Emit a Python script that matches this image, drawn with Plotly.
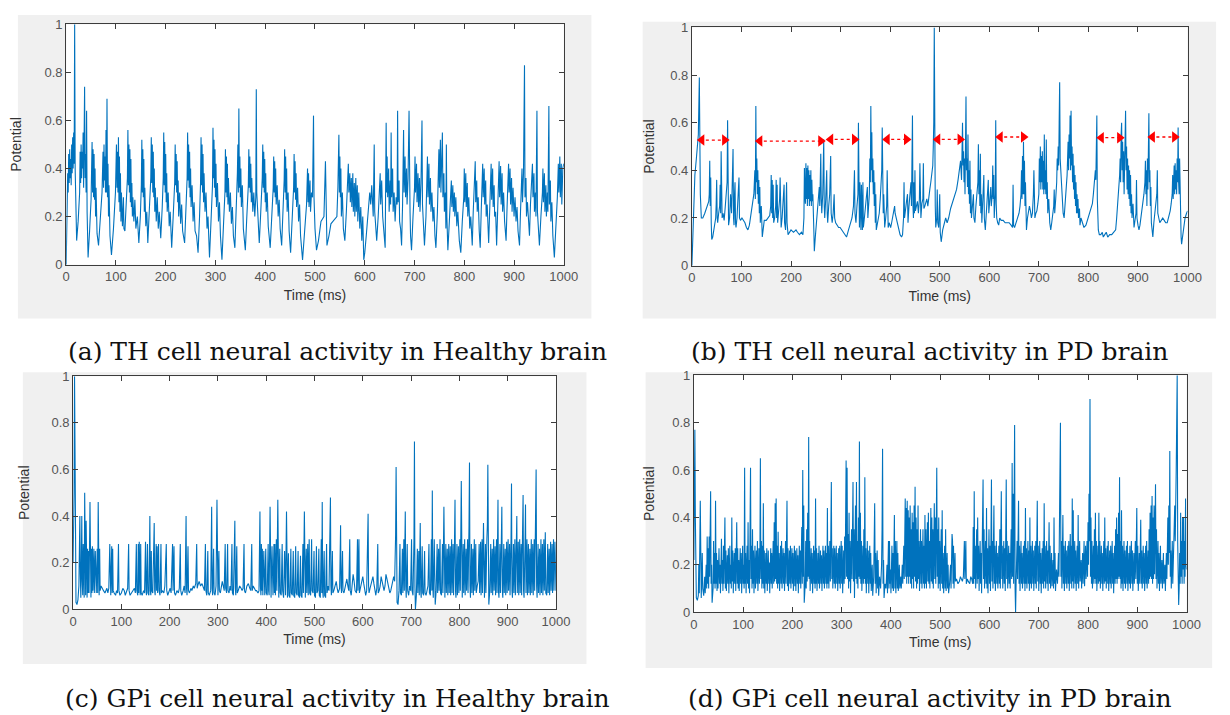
import plotly.graph_objects as go

# ---------------- data ----------------
TIME_TICKS = [0, 100, 200, 300, 400, 500, 600, 700, 800, 900, 1000]
POT_TICKS = [0, 0.2, 0.4, 0.6, 0.8, 1]
POT_LABELS = ["0", "0.2", "0.4", "0.6", "0.8", "1"]

CAPTIONS = [
    "(a) TH cell neural activity in Healthy brain",
    "(b) TH cell neural activity in PD brain",
    "(c) GPi cell neural activity in Healthy brain",
    "(d) GPi cell neural activity in PD brain",
]

# (time ms, potential)
TH_HEALTHY = [
(0,0.00),(2,0.22),(3,0.38),(4,0.30),(5,0.46),(6,0.34),(7,0.48),(8,0.36),(9,0.44),(10,0.33),(11,0.50),(12,0.38),(13,0.53),(14,0.40),(15,0.55),(16,0.42),(17,1.00),(18,0.40),(19,0.22),(21,0.10),
(24,0.18),(27,0.30),(28,0.47),(29,0.34),(30,0.50),(31,0.36),(32,0.47),(33,0.40),(34,0.55),(35,0.32),(37,0.74),(38,0.36),(39,0.46),(40,0.30),(41,0.64),(42,0.22),(44,0.03),
(47,0.14),(50,0.27),(52,0.51),(53,0.30),(54,0.48),(55,0.28),(56,0.46),(57,0.27),(58,0.40),(59,0.20),(60,0.32),(62,0.13),(65,0.08),
(68,0.16),(72,0.30),(74,0.47),(75,0.32),(76,0.50),(77,0.35),(78,0.45),(79,0.30),(80,0.56),(81,0.30),(82,0.69),(83,0.28),(84,0.42),(85,0.20),(86,0.33),(88,0.12),(91,0.04),
(95,0.15),(99,0.30),(101,0.50),(102,0.32),(103,0.47),(104,0.30),(105,0.53),(106,0.26),(107,0.45),(108,0.22),(109,0.38),(110,0.18),(111,0.30),(113,0.16),(115,0.28),(116,0.15),(118,0.14),
(121,0.25),(123,0.36),(124,0.56),(125,0.33),(126,0.50),(127,0.30),(128,0.48),(129,0.26),(130,0.44),(131,0.24),(132,0.34),(133,0.20),(134,0.28),(136,0.18),(138,0.27),(140,0.15),(143,0.20),(146,0.09),
(149,0.20),(151,0.33),(152,0.52),(153,0.30),(154,0.48),(155,0.28),(156,0.44),(157,0.22),(158,0.32),(160,0.16),(162,0.22),(164,0.09),
(167,0.22),(170,0.36),(171,0.53),(172,0.34),(173,0.50),(174,0.30),(175,0.47),(176,0.28),(177,0.40),(178,0.22),(179,0.32),(181,0.18),(183,0.28),(185,0.15),(187,0.22),(190,0.11),
(193,0.24),(195,0.36),(196,0.55),(197,0.33),(198,0.51),(199,0.30),(200,0.46),(201,0.26),(202,0.38),(203,0.22),(205,0.30),(207,0.16),(209,0.22),(212,0.07),
(215,0.20),(218,0.34),(219,0.50),(220,0.33),(221,0.46),(222,0.30),(223,0.43),(224,0.26),(225,0.35),(226,0.20),(228,0.30),(230,0.17),(232,0.25),(234,0.14),(238,0.09),
(241,0.22),(243,0.36),(244,0.55),(245,0.35),(246,0.50),(247,0.32),(248,0.47),(249,0.28),(250,0.40),(251,0.24),(253,0.33),(255,0.18),(257,0.26),(259,0.14),(262,0.12),(265,0.05),
(268,0.20),(270,0.34),(271,0.53),(272,0.33),(273,0.50),(274,0.30),(275,0.46),(276,0.26),(277,0.38),(279,0.22),(281,0.30),(283,0.15),(285,0.20),(288,0.03),
(291,0.18),(294,0.33),(295,0.57),(296,0.36),(297,0.52),(298,0.32),(299,0.48),(300,0.28),(301,0.42),(302,0.24),(304,0.34),(306,0.18),(308,0.26),(310,0.12),(313,0.02),
(316,0.18),(319,0.30),(320,0.48),(321,0.30),(322,0.45),(323,0.28),(324,0.42),(325,0.25),(326,0.36),(328,0.22),(330,0.30),(332,0.17),(334,0.24),(336,0.12),(339,0.07),
(342,0.22),(344,0.38),(345,0.50),(346,0.30),(347,0.65),(348,0.32),(349,0.45),(350,0.28),(351,0.40),(352,0.24),(354,0.33),(356,0.15),(360,0.06),
(363,0.20),(366,0.33),(367,0.48),(368,0.32),(369,0.45),(370,0.30),(371,0.42),(372,0.26),(373,0.36),(375,0.22),(377,0.30),(379,0.20),(381,0.28),(382,0.73),(383,0.30),(385,0.18),(388,0.09),
(391,0.22),(394,0.36),(395,0.50),(396,0.32),(397,0.47),(398,0.30),(399,0.44),(400,0.26),(401,0.38),(402,0.22),(404,0.30),(406,0.16),(410,0.07),
(413,0.20),(416,0.32),(417,0.45),(418,0.30),(419,0.43),(420,0.28),(421,0.40),(422,0.25),(424,0.33),(426,0.20),(428,0.27),(430,0.15),(433,0.08),
(436,0.22),(438,0.35),(439,0.48),(440,0.30),(441,0.45),(442,0.27),(443,0.40),(444,0.22),(446,0.30),(448,0.14),(451,0.05),
(454,0.18),(457,0.32),(458,0.46),(459,0.30),(460,0.43),(461,0.27),(462,0.38),(463,0.24),(465,0.32),(467,0.18),(469,0.25),(471,0.12),(475,0.02),
(479,0.14),(483,0.25),(485,0.40),(486,0.26),(487,0.38),(488,0.24),(490,0.35),(491,0.22),(493,0.30),(495,0.28),(497,0.62),(498,0.28),(500,0.15),(503,0.06),
(507,0.10),(512,0.18),(515,0.19),(518,0.20),(521,0.43),(522,0.20),(524,0.08),(528,0.12),(532,0.17),(536,0.18),(540,0.19),(544,0.20),(546,0.32),(548,0.54),(549,0.30),(550,0.45),(551,0.28),(552,0.40),(553,0.20),(555,0.30),(557,0.15),(560,0.10),
(563,0.22),(566,0.35),(567,0.42),(568,0.30),(570,0.38),(571,0.26),(573,0.36),(574,0.24),(576,0.38),(577,0.22),(579,0.34),(580,0.20),(582,0.36),(583,0.22),(585,0.33),(586,0.18),(588,0.30),(590,0.15),(592,0.24),(594,0.10),(596,0.20),(598,0.02),(600,0.05),
(603,0.12),(607,0.22),(610,0.30),(612,0.25),(614,0.33),(617,0.20),(619,0.50),(620,0.22),(622,0.15),(624,0.10),
(627,0.20),(630,0.30),(631,0.38),(632,0.25),(634,0.35),(636,0.20),(638,0.15),(641,0.07),
(643,0.59),(644,0.30),(645,0.45),(646,0.28),(648,0.40),(649,0.22),(651,0.35),(652,0.25),(653,0.55),(654,0.28),(656,0.40),(657,0.22),(659,0.30),(661,0.18),(663,0.28),(665,0.25),(666,0.64),(667,0.26),(669,0.35),(670,0.18),(672,0.15),(674,0.08),
(676,0.25),(678,0.56),(679,0.30),(681,0.45),(682,0.28),(684,0.40),(685,0.25),(687,0.36),(689,0.64),(690,0.28),(691,0.22),(692,0.12),(694,0.06),
(697,0.20),(700,0.32),(701,0.45),(702,0.30),(704,0.42),(705,0.26),(707,0.38),(708,0.24),(710,0.36),(711,0.22),(713,0.34),(715,0.60),(716,0.25),(718,0.15),(720,0.08),
(723,0.20),(725,0.32),(726,0.45),(727,0.28),(729,0.42),(730,0.25),(732,0.36),(733,0.22),(735,0.30),(737,0.18),(739,0.24),(741,0.12),(743,0.07),
(746,0.22),(748,0.36),(749,0.48),(750,0.32),(752,0.52),(753,0.30),(754,0.45),(756,0.55),(757,0.28),(759,0.38),(760,0.22),(762,0.30),(763,0.15),(764,0.50),(765,0.20),(767,0.06),
(770,0.18),(773,0.28),(774,0.35),(775,0.24),(777,0.33),(778,0.22),(780,0.30),(781,0.20),(783,0.28),(785,0.16),(787,0.22),(790,0.10),(793,0.05),
(796,0.18),(799,0.28),(800,0.40),(801,0.26),(803,0.38),(804,0.24),(806,0.34),(807,0.20),(809,0.28),(811,0.15),(813,0.20),(816,0.08),
(818,0.22),(820,0.30),(822,0.43),(823,0.26),(825,0.35),(826,0.22),(828,0.28),(830,0.14),(832,0.07),
(834,0.22),(836,0.33),(837,0.42),(838,0.28),(840,0.40),(841,0.25),(843,0.35),(844,0.20),(846,0.25),(849,0.09),
(851,0.22),(853,0.33),(854,0.42),(855,0.27),(857,0.40),(858,0.24),(860,0.33),(861,0.20),(863,0.22),(865,0.08),
(867,0.22),(869,0.33),(870,0.43),(871,0.28),(873,0.41),(874,0.25),(876,0.38),(877,0.22),(879,0.30),(881,0.18),(884,0.10),
(886,0.24),(888,0.35),(889,0.42),(890,0.30),(892,0.40),(893,0.25),(895,0.36),(896,0.22),(898,0.32),(900,0.20),(902,0.28),(904,0.18),(906,0.24),(908,0.14),(911,0.08),
(913,0.22),(915,0.33),(916,0.40),(917,0.26),(919,0.38),(921,0.83),(922,0.28),(924,0.36),(925,0.20),(927,0.26),(929,0.16),(931,0.12),
(933,0.25),(935,0.33),(937,0.42),(938,0.28),(940,0.38),(941,0.22),(943,0.30),(944,0.20),(946,0.64),(947,0.22),(949,0.15),(951,0.08),
(954,0.20),(957,0.30),(958,0.40),(959,0.26),(961,0.38),(962,0.22),(964,0.33),(965,0.20),(967,0.30),(968,0.22),(970,0.66),(971,0.25),(973,0.35),(974,0.18),(976,0.26),(978,0.12),(981,0.03),
(984,0.15),(987,0.28),(989,0.42),(990,0.30),(992,0.45),(993,0.28),(995,0.42),(996,0.25),(998,0.40),(1000,0.42),
]

# (time ms, potential)
TH_PD = [
(0,0.00),(3,0.20),(6,0.38),(9,0.45),(11,0.50),(13,0.55),(15,0.79),(16,0.45),(17,0.30),(19,0.20),(22,0.20),(26,0.22),(30,0.25),(34,0.27),(35,0.30),(36,0.44),(37,0.25),(38,0.37),(39,0.18),(40,0.11),(42,0.12),(45,0.17),(48,0.20),(49,0.26),(50,0.36),(51,0.20),(52,0.18),(54,0.22),(56,0.25),(57,0.34),(58,0.22),(59,0.48),(60,0.25),(61,0.20),(63,0.22),(65,0.19),(67,0.24),(69,0.30),(71,0.35),(72,0.61),(73,0.22),(74,0.17),(76,0.20),(78,0.30),(80,0.22),(82,0.35),(83,0.49),(84,0.20),(85,0.17),(86,0.30),(87,0.35),(88,0.18),(89,0.16),(91,0.20),(93,0.28),(95,0.37),(96,0.20),(98,0.19),(101,0.20),(104,0.19),(107,0.18),(110,0.16),(113,0.15),(116,0.17),(119,0.22),(122,0.27),(125,0.30),(127,0.40),(128,0.28),(129,0.67),(130,0.35),(131,0.45),(132,0.30),(133,0.40),(134,0.26),(135,0.36),(136,0.22),(137,0.33),(138,0.18),(140,0.25),(142,0.12),(144,0.15),(146,0.19),(150,0.19),(154,0.20),(157,0.21),(159,0.25),(160,0.38),(161,0.22),(162,0.36),(163,0.20),(164,0.34),(165,0.18),(167,0.20),(169,0.25),(170,0.36),(171,0.20),(172,0.34),(173,0.18),(175,0.22),(177,0.28),(178,0.37),(179,0.20),(180,0.16),(182,0.20),(184,0.26),(186,0.34),(187,0.18),(189,0.15),(191,0.35),(192,0.18),(194,0.13),(197,0.14),(200,0.15),(205,0.14),(210,0.15),(213,0.14),(217,0.13),(221,0.14),(224,0.13),(226,0.20),(227,0.41),(228,0.30),(229,0.26),(230,0.43),(231,0.28),(232,0.41),(233,0.25),(234,0.42),(235,0.28),(236,0.40),(237,0.25),(238,0.38),(239,0.27),(240,0.40),(241,0.25),(242,0.36),(243,0.27),(244,0.30),(246,0.15),(247,0.06),(249,0.12),(252,0.20),(255,0.27),(257,0.33),(258,0.25),(260,0.47),(261,0.28),(262,0.22),(264,0.30),(266,0.53),(267,0.25),(268,0.20),(270,0.28),(272,0.40),(273,0.22),(274,0.18),(276,0.25),(278,0.30),(280,0.46),(281,0.22),(283,0.18),(285,0.22),(287,0.30),(288,0.20),(290,0.18),(293,0.17),(296,0.16),(299,0.16),(302,0.15),(306,0.14),(309,0.13),(312,0.12),(316,0.15),(320,0.18),(323,0.20),(326,0.25),(328,0.40),(329,0.22),(331,0.18),(333,0.25),(335,0.30),(336,0.60),(337,0.20),(338,0.16),(339,0.35),(340,0.20),(341,0.15),(342,0.34),(343,0.18),(344,0.15),(345,0.35),(346,0.16),(348,0.20),(350,0.25),(352,0.30),(354,0.33),(355,0.20),(357,0.25),(358,0.30),(359,0.45),(360,0.35),(361,0.67),(362,0.40),(363,0.56),(364,0.35),(365,0.45),(366,0.30),(367,0.40),(368,0.25),(369,0.35),(370,0.18),(371,0.30),(372,0.15),(374,0.18),(376,0.20),(378,0.22),(380,0.28),(382,0.35),(383,0.40),(384,0.58),(385,0.30),(386,0.22),(387,0.30),(388,0.18),(389,0.16),(391,0.20),(393,0.25),(394,0.40),(395,0.20),(396,0.16),(398,0.18),(401,0.16),(403,0.18),(405,0.20),(407,0.22),(409,0.25),(410,0.22),(412,0.20),(414,0.18),(416,0.16),(418,0.15),(420,0.13),(423,0.12),(425,0.13),(427,0.20),(428,0.35),(429,0.20),(431,0.25),(433,0.27),(435,0.30),(436,0.18),(438,0.25),(440,0.30),(442,0.35),(443,0.25),(445,0.63),(446,0.25),(447,0.20),(448,0.35),(449,0.22),(450,0.40),(451,0.23),(453,0.25),(455,0.27),(457,0.22),(459,0.28),(460,0.43),(461,0.25),(462,0.20),(464,0.26),(466,0.28),(467,0.43),(468,0.24),(470,0.25),(472,0.27),(474,0.28),(476,0.25),(478,0.30),(480,0.32),(482,0.35),(484,0.38),(486,0.42),(487,0.50),(488,0.60),(489,1.00),(490,0.40),(491,0.25),(492,0.16),(494,0.20),(495,0.32),(496,0.18),(498,0.16),(500,0.30),(501,0.14),(503,0.10),(506,0.15),(509,0.18),(512,0.20),(515,0.18),(518,0.20),(522,0.24),(526,0.27),(530,0.30),(534,0.32),(537,0.36),(540,0.40),(542,0.44),(544,0.36),(546,0.60),(547,0.42),(548,0.48),(549,0.35),(550,0.45),(551,0.30),(552,0.50),(553,0.71),(554,0.40),(555,0.45),(556,0.33),(557,0.55),(558,0.30),(559,0.40),(560,0.26),(561,0.44),(562,0.22),(563,0.32),(564,0.20),(566,0.25),(568,0.30),(569,0.20),(571,0.18),(573,0.25),(575,0.30),(577,0.35),(578,0.51),(579,0.30),(580,0.40),(581,0.25),(582,0.47),(583,0.22),(584,0.30),(585,0.18),(587,0.26),(589,0.38),(590,0.20),(592,0.15),(594,0.22),(596,0.30),(598,0.36),(599,0.22),(601,0.30),(603,0.33),(604,0.25),(606,0.30),(607,0.42),(608,0.28),(609,0.38),(610,0.20),(612,0.30),(613,0.61),(614,0.26),(615,0.20),(617,0.18),(619,0.17),(621,0.20),(624,0.19),(628,0.19),(632,0.18),(636,0.18),(640,0.18),(644,0.17),(647,0.16),(648,0.34),(649,0.17),(651,0.16),(654,0.18),(657,0.20),(660,0.22),(662,0.25),(664,0.30),(665,0.40),(666,0.28),(667,0.46),(668,0.30),(669,0.52),(670,0.30),(671,0.44),(672,0.25),(673,0.35),(674,0.20),(675,0.15),(677,0.20),(679,0.22),(681,0.25),(683,0.23),(685,0.20),(687,0.22),(689,0.30),(690,0.40),(691,0.25),(692,0.20),(694,0.22),(696,0.23),(698,0.26),(700,0.30),(701,0.45),(702,0.35),(703,0.50),(704,0.32),(705,0.46),(706,0.35),(707,0.48),(708,0.32),(709,0.44),(710,0.30),(711,0.55),(712,0.32),(713,0.40),(714,0.30),(715,0.53),(716,0.28),(717,0.35),(718,0.22),(720,0.28),(722,0.18),(724,0.15),(726,0.18),(728,0.22),(730,0.25),(731,0.32),(732,0.22),(734,0.28),(736,0.35),(737,0.45),(738,0.40),(739,0.50),(740,0.42),(741,0.60),(742,0.77),(743,0.45),(744,0.40),(745,0.35),(746,0.30),(747,0.25),(749,0.22),(751,0.20),(753,0.25),(755,0.32),(757,0.38),(758,0.45),(759,0.52),(760,0.40),(761,0.55),(762,0.45),(763,0.63),(764,0.40),(765,0.65),(766,0.42),(767,0.50),(768,0.35),(769,0.47),(770,0.32),(771,0.42),(772,0.28),(773,0.38),(774,0.25),(775,0.35),(776,0.22),(777,0.30),(778,0.22),(779,0.28),(780,0.20),(782,0.24),(783,0.17),(785,0.20),(788,0.18),(791,0.16),(795,0.17),(799,0.20),(802,0.22),(805,0.24),(808,0.26),(810,0.30),(812,0.35),(814,0.40),(815,0.36),(816,0.45),(817,0.63),(818,0.28),(819,0.20),(820,0.15),(822,0.13),(825,0.13),(828,0.14),(830,0.12),(833,0.13),(836,0.14),(839,0.12),(843,0.13),(847,0.13),(851,0.14),(855,0.15),(857,0.20),(859,0.25),(861,0.30),(863,0.38),(864,0.45),(865,0.35),(866,0.55),(867,0.60),(868,0.40),(869,0.52),(870,0.35),(871,0.48),(872,0.30),(873,0.45),(874,0.38),(875,0.65),(876,0.40),(877,0.50),(878,0.32),(879,0.45),(880,0.30),(881,0.42),(882,0.28),(883,0.40),(884,0.25),(885,0.38),(886,0.22),(887,0.30),(888,0.20),(890,0.26),(892,0.16),(894,0.20),(896,0.22),(897,0.36),(898,0.20),(900,0.17),(902,0.15),(904,0.17),(906,0.20),(908,0.23),(910,0.26),(912,0.30),(914,0.35),(915,0.44),(916,0.30),(917,0.40),(918,0.25),(919,0.45),(920,0.32),(921,0.50),(922,0.64),(923,0.35),(924,0.40),(925,0.25),(926,0.33),(927,0.18),(929,0.15),(930,0.12),(932,0.18),(934,0.22),(936,0.25),(938,0.30),(939,0.40),(940,0.22),(942,0.20),(944,0.18),(947,0.19),(950,0.20),(953,0.19),(956,0.18),(959,0.18),(962,0.20),(965,0.23),(967,0.26),(969,0.30),(970,0.38),(971,0.28),(972,0.35),(973,0.42),(974,0.30),(975,0.43),(976,0.32),(977,0.40),(978,0.30),(979,0.45),(980,0.35),(981,0.58),(982,0.35),(983,0.30),(984,0.45),(985,0.25),(986,0.20),(987,0.12),(988,0.09),(990,0.12),(992,0.17),(995,0.20),(998,0.22),(1000,0.23),
]

# (time ms, potential)
GPI_HEALTHY = [
(0,0.20),(2,0.50),(3,1.00),(4,0.60),(5,0.20),(6,0.03),(8,0.02),(10,0.04),(12,0.10),(13,0.30),(14,0.40),(15,0.15),(16,0.05),(17,0.18),(18,0.40),(19,0.12),(20,0.06),(21,0.28),(22,0.08),(23,0.05),(24,0.50),(25,0.12),(26,0.06),(27,0.38),(28,0.08),(29,0.05),(30,0.26),(31,0.07),(32,0.25),(33,0.07),(35,0.46),(36,0.10),(37,0.05),(38,0.26),(39,0.07),(40,0.27),(41,0.08),(43,0.26),(44,0.07),(46,0.25),(47,0.08),(48,0.07),(50,0.26),(51,0.07),(52,0.46),(53,0.10),(54,0.06),(55,0.26),(56,0.08),(58,0.10),(60,0.09),(63,0.08),(66,0.07),(68,0.08),(70,0.09),(72,0.07),(74,0.09),(76,0.28),(77,0.08),(78,0.06),(80,0.27),(81,0.07),(82,0.26),(83,0.08),(85,0.07),(88,0.06),(90,0.08),(92,0.07),(94,0.28),(95,0.08),(97,0.06),(100,0.07),(103,0.09),(106,0.08),(108,0.06),(110,0.07),(113,0.09),(115,0.28),(116,0.08),(118,0.06),(121,0.07),(124,0.08),(127,0.09),(129,0.07),(131,0.28),(132,0.08),(134,0.06),(135,0.28),(136,0.07),(137,0.29),(138,0.08),(139,0.06),(140,0.28),(141,0.07),(143,0.06),(146,0.08),(148,0.07),(150,0.29),(151,0.08),(152,0.06),(154,0.28),(155,0.07),(157,0.06),(159,0.40),(160,0.08),(161,0.06),(162,0.25),(163,0.08),(165,0.07),(168,0.37),(169,0.08),(170,0.06),(172,0.28),(173,0.08),(174,0.27),(175,0.07),(177,0.28),(178,0.08),(180,0.06),(182,0.28),(183,0.07),(185,0.08),(188,0.07),(190,0.10),(193,0.28),(194,0.08),(196,0.06),(199,0.08),(201,0.09),(203,0.07),(206,0.28),(207,0.08),(209,0.27),(210,0.07),(212,0.06),(215,0.08),(218,0.07),(220,0.09),(222,0.28),(223,0.08),(225,0.06),(228,0.08),(230,0.10),(232,0.07),(234,0.40),(235,0.09),(236,0.06),(238,0.27),(239,0.08),(241,0.07),(244,0.09),(246,0.08),(249,0.10),(251,0.09),(254,0.11),(256,0.28),(257,0.09),(258,0.10),(261,0.12),(264,0.10),(267,0.11),(270,0.09),(272,0.08),(274,0.28),(275,0.08),(277,0.06),(279,0.25),(280,0.07),(282,0.06),(285,0.08),(287,0.44),(288,0.09),(289,0.06),(291,0.26),(292,0.07),(294,0.06),(296,0.10),(298,0.47),(299,0.10),(300,0.06),(302,0.25),(303,0.08),(305,0.07),(307,0.09),(309,0.12),(311,0.10),(313,0.08),(315,0.28),(316,0.09),(318,0.07),(320,0.28),(321,0.08),(323,0.07),(325,0.10),(327,0.08),(329,0.28),(330,0.07),(332,0.06),(334,0.28),(335,0.38),(336,0.09),(337,0.06),(339,0.27),(340,0.07),(342,0.08),(345,0.10),(348,0.09),(350,0.08),(352,0.09),(354,0.28),(355,0.08),(357,0.07),(360,0.10),(363,0.11),(366,0.09),(368,0.08),(370,0.28),(371,0.08),(373,0.10),(376,0.09),(378,0.08),(380,0.08),(383,0.07),(385,0.08),(387,0.42),(388,0.10),(389,0.06),(390,0.28),(391,0.08),(392,0.26),(393,0.06),(395,0.25),(396,0.07),(397,0.06),(399,0.26),(400,0.07),(402,0.06),(404,0.28),(405,0.08),(406,0.06),(408,0.44),(409,0.10),(410,0.05),(412,0.27),(413,0.07),(414,0.06),(416,0.28),(417,0.07),(418,0.28),(419,0.06),(421,0.30),(422,0.08),(424,0.47),(425,0.10),(426,0.05),(428,0.26),(429,0.07),(431,0.06),(433,0.28),(434,0.08),(436,0.05),(438,0.25),(439,0.07),(440,0.06),(442,0.42),(443,0.08),(444,0.05),(446,0.24),(447,0.06),(449,0.05),(451,0.26),(452,0.07),(454,0.06),(456,0.25),(457,0.06),(459,0.05),(461,0.27),(462,0.07),(464,0.06),(466,0.25),(467,0.06),(469,0.05),(471,0.23),(472,0.06),(474,0.05),(476,0.28),(477,0.07),(479,0.42),(480,0.08),(481,0.05),(483,0.26),(484,0.07),(486,0.28),(487,0.06),(489,0.30),(490,0.07),(492,0.06),(494,0.30),(495,0.08),(497,0.07),(499,0.25),(500,0.06),(502,0.05),(504,0.27),(505,0.07),(507,0.08),(509,0.26),(510,0.06),(512,0.05),(514,0.30),(515,0.07),(516,0.46),(517,0.08),(518,0.05),(520,0.25),(521,0.06),(523,0.05),(525,0.28),(526,0.07),(528,0.10),(530,0.08),(533,0.48),(534,0.10),(535,0.06),(537,0.25),(538,0.07),(540,0.08),(543,0.10),(545,0.12),(547,0.09),(549,0.07),(552,0.09),(554,0.36),(555,0.10),(556,0.07),(558,0.25),(559,0.08),(561,0.07),(564,0.10),(567,0.13),(569,0.10),(571,0.08),(573,0.30),(574,0.08),(576,0.06),(578,0.12),(580,0.15),(582,0.12),(584,0.08),(587,0.07),(589,0.30),(590,0.08),(592,0.30),(593,0.07),(595,0.09),(598,0.12),(600,0.14),(602,0.11),(604,0.08),(606,0.06),(608,0.08),(610,0.25),(611,0.41),(612,0.10),(613,0.07),(615,0.09),(618,0.12),(621,0.14),(623,0.11),(625,0.08),(627,0.06),(629,0.09),(631,0.28),(632,0.07),(634,0.08),(636,0.10),(638,0.14),(640,0.12),(642,0.10),(644,0.08),(646,0.10),(648,0.15),(650,0.13),(652,0.11),(654,0.09),(656,0.07),(658,0.08),(660,0.10),(662,0.12),(664,0.14),(666,0.12),(668,0.32),(669,0.61),(670,0.10),(671,0.03),(673,0.02),(675,0.08),(677,0.28),(678,0.07),(680,0.06),(682,0.26),(683,0.07),(685,0.30),(686,0.08),(688,0.42),(689,0.10),(690,0.05),(692,0.28),(693,0.08),(695,0.06),(697,0.10),(699,0.08),(701,0.30),(702,0.08),(704,0.06),(706,0.30),(707,0.72),(708,0.10),(709,0.00),(711,0.06),(713,0.26),(714,0.07),(716,0.25),(717,0.06),(719,0.37),(720,0.08),(721,0.05),(723,0.27),(724,0.07),(726,0.06),(728,0.25),(729,0.07),(731,0.06),(733,0.08),(735,0.10),(737,0.28),(738,0.07),(740,0.06),(742,0.30),(743,0.08),(744,0.51),(745,0.10),(746,0.05),(748,0.30),(749,0.06),(750,0.02),(752,0.08),(754,0.28),(755,0.07),(757,0.26),(758,0.08),(760,0.30),(761,0.07),(763,0.06),(765,0.28),(766,0.07),(768,0.44),(769,0.09),(770,0.05),(772,0.28),(773,0.07),(775,0.26),(776,0.06),(778,0.28),(779,0.07),(781,0.27),(782,0.06),(784,0.30),(785,0.07),(787,0.28),(788,0.06),(790,0.30),(791,0.47),(792,0.08),(793,0.05),(795,0.28),(796,0.06),(798,0.27),(799,0.07),(801,0.30),(802,0.08),(804,0.55),(805,0.09),(806,0.05),(808,0.28),(809,0.07),(811,0.30),(812,0.06),(814,0.26),(815,0.08),(817,0.30),(818,0.07),(820,0.36),(821,0.63),(822,0.10),(823,0.05),(825,0.28),(826,0.07),(828,0.26),(829,0.06),(831,0.30),(832,0.08),(834,0.28),(835,0.07),(837,0.10),(839,0.12),(841,0.28),(842,0.07),(844,0.29),(845,0.06),(847,0.30),(848,0.07),(850,0.37),(851,0.08),(852,0.05),(854,0.28),(855,0.07),(857,0.30),(858,0.36),(859,0.62),(860,0.10),(861,0.02),(863,0.08),(865,0.28),(866,0.07),(868,0.26),(869,0.06),(871,0.30),(872,0.08),(874,0.27),(875,0.06),(877,0.30),(878,0.07),(880,0.47),(881,0.08),(882,0.05),(884,0.28),(885,0.07),(887,0.30),(888,0.44),(889,0.08),(890,0.05),(892,0.28),(893,0.07),(895,0.26),(896,0.06),(898,0.29),(899,0.07),(901,0.30),(902,0.08),(904,0.28),(905,0.06),(907,0.30),(908,0.54),(909,0.08),(910,0.05),(912,0.28),(913,0.07),(915,0.30),(916,0.06),(918,0.28),(919,0.40),(920,0.07),(922,0.29),(923,0.06),(925,0.30),(926,0.07),(928,0.28),(929,0.06),(931,0.30),(932,0.49),(933,0.08),(934,0.05),(936,0.28),(937,0.45),(938,0.07),(940,0.30),(941,0.06),(943,0.28),(944,0.07),(946,0.26),(947,0.06),(949,0.30),(950,0.07),(952,0.28),(953,0.06),(955,0.30),(956,0.08),(958,0.36),(959,0.60),(960,0.10),(961,0.05),(963,0.28),(964,0.07),(966,0.26),(967,0.06),(969,0.30),(970,0.07),(972,0.28),(973,0.06),(975,0.30),(976,0.08),(978,0.33),(979,0.07),(981,0.06),(983,0.28),(984,0.07),(986,0.26),(987,0.06),(989,0.29),(990,0.08),(992,0.28),(993,0.07),(995,0.30),(996,0.08),(998,0.29),(1000,0.08),
]

# (time ms, potential)
GPI_PD = [
(0,0.22),(1,0.50),(2,0.77),(3,0.40),(4,0.12),(5,0.06),(7,0.05),(9,0.07),(10,0.20),(11,0.08),(13,0.47),(14,0.10),(15,0.06),(17,0.25),(18,0.10),(20,0.07),(22,0.15),(23,0.08),(25,0.20),(26,0.10),(27,0.32),(28,0.12),(29,0.27),(30,0.10),(31,0.32),(32,0.15),(33,0.43),(34,0.51),(35,0.12),(36,0.20),(37,0.04),(39,0.10),(40,0.30),(41,0.12),(42,0.25),(43,0.10),(44,0.47),(45,0.12),(46,0.25),(47,0.09),(48,0.22),(49,0.10),(51,0.27),(52,0.12),(53,0.20),(54,0.08),(56,0.31),(57,0.12),(58,0.22),(59,0.09),(60,0.28),(61,0.12),(63,0.40),(64,0.10),(65,0.26),(66,0.09),(68,0.24),(69,0.12),(70,0.27),(71,0.08),(73,0.28),(74,0.12),(75,0.20),(76,0.10),(77,0.40),(78,0.13),(79,0.26),(80,0.08),(82,0.25),(83,0.12),(84,0.27),(85,0.09),(87,0.38),(88,0.12),(89,0.27),(90,0.10),(91,0.22),(92,0.09),(94,0.27),(95,0.12),(96,0.25),(97,0.08),(99,0.28),(100,0.12),(101,0.20),(102,0.10),(103,0.61),(104,0.12),(105,0.25),(106,0.08),(108,0.28),(109,0.12),(110,0.38),(111,0.10),(112,0.22),(113,0.08),(115,0.61),(116,0.14),(117,0.28),(118,0.10),(119,0.35),(120,0.12),(121,0.26),(122,0.08),(124,0.28),(125,0.10),(127,0.26),(128,0.12),(129,0.30),(130,0.09),(132,0.27),(133,0.12),(134,0.22),(135,0.65),(136,0.14),(137,0.30),(138,0.10),(139,0.28),(140,0.12),(141,0.46),(142,0.10),(143,0.26),(144,0.08),(146,0.25),(147,0.12),(148,0.27),(149,0.09),(151,0.26),(152,0.12),(153,0.21),(154,0.08),(156,0.27),(157,0.12),(158,0.25),(159,0.10),(161,0.30),(162,0.12),(163,0.38),(164,0.13),(165,0.46),(166,0.14),(167,0.48),(168,0.12),(169,0.28),(170,0.10),(171,0.34),(172,0.12),(173,0.25),(174,0.09),(176,0.28),(177,0.12),(178,0.30),(179,0.10),(181,0.27),(182,0.12),(183,0.25),(184,0.09),(186,0.30),(187,0.12),(189,0.47),(190,0.11),(191,0.27),(192,0.09),(194,0.26),(195,0.12),(196,0.28),(197,0.10),(199,0.27),(200,0.12),(201,0.25),(202,0.09),(204,0.28),(205,0.11),(206,0.26),(207,0.09),(209,0.27),(210,0.12),(211,0.24),(212,0.08),(214,0.28),(215,0.12),(216,0.26),(217,0.10),(219,0.36),(220,0.12),(221,0.60),(222,0.15),(223,0.45),(224,0.04),(226,0.12),(227,0.30),(228,0.10),(229,0.35),(230,0.13),(231,0.42),(232,0.15),(233,0.74),(234,0.14),(235,0.30),(236,0.09),(238,0.27),(239,0.12),(240,0.25),(241,0.08),(243,0.28),(244,0.12),(245,0.26),(246,0.10),(247,0.48),(248,0.12),(249,0.27),(250,0.09),(252,0.25),(253,0.12),(254,0.28),(255,0.10),(257,0.26),(258,0.12),(259,0.24),(260,0.09),(262,0.28),(263,0.12),(264,0.26),(265,0.10),(267,0.28),(268,0.12),(269,0.25),(270,0.10),(271,0.44),(272,0.12),(273,0.28),(274,0.10),(276,0.30),(277,0.13),(278,0.35),(279,0.55),(280,0.14),(281,0.27),(282,0.10),(284,0.28),(285,0.12),(286,0.27),(287,0.10),(289,0.28),(290,0.12),(291,0.25),(292,0.09),(294,0.27),(295,0.12),(296,0.28),(297,0.10),(299,0.30),(300,0.12),(301,0.28),(302,0.08),(304,0.26),(305,0.12),(306,0.32),(307,0.14),(308,0.46),(309,0.64),(310,0.15),(311,0.61),(312,0.14),(313,0.33),(314,0.10),(315,0.42),(316,0.13),(317,0.30),(318,0.08),(320,0.35),(321,0.14),(322,0.46),(323,0.55),(324,0.13),(325,0.35),(326,0.06),(328,0.45),(329,0.14),(330,0.55),(331,0.12),(332,0.30),(333,0.10),(334,0.40),(335,0.15),(336,0.72),(337,0.14),(338,0.42),(339,0.12),(340,0.30),(341,0.09),(343,0.28),(344,0.12),(345,0.35),(346,0.14),(347,0.57),(348,0.12),(349,0.27),(350,0.08),(352,0.30),(353,0.12),(354,0.26),(355,0.08),(357,0.28),(358,0.12),(359,0.25),(360,0.09),(362,0.20),(363,0.07),(365,0.15),(366,0.30),(367,0.46),(368,0.12),(369,0.25),(370,0.08),(372,0.26),(373,0.10),(374,0.22),(375,0.07),(377,0.15),(379,0.10),(381,0.20),(382,0.35),(383,0.69),(384,0.12),(385,0.22),(386,0.06),(388,0.12),(390,0.10),(392,0.20),(393,0.08),(395,0.30),(396,0.10),(397,0.30),(398,0.12),(399,0.18),(400,0.08),(402,0.28),(403,0.10),(404,0.25),(405,0.09),(407,0.41),(408,0.10),(409,0.30),(410,0.08),(412,0.30),(413,0.10),(414,0.25),(415,0.09),(417,0.20),(418,0.10),(420,0.15),(421,0.10),(423,0.20),(424,0.12),(426,0.28),(427,0.14),(428,0.36),(429,0.48),(430,0.15),(431,0.44),(432,0.12),(433,0.47),(434,0.15),(435,0.43),(436,0.12),(437,0.40),(438,0.15),(439,0.45),(440,0.12),(441,0.35),(442,0.10),(443,0.42),(444,0.14),(445,0.38),(446,0.10),(447,0.45),(448,0.15),(449,0.53),(450,0.13),(451,0.40),(452,0.10),(453,0.35),(454,0.12),(455,0.45),(456,0.14),(457,0.30),(458,0.09),(460,0.35),(461,0.12),(462,0.30),(463,0.10),(465,0.35),(466,0.12),(467,0.28),(468,0.10),(469,0.41),(470,0.12),(471,0.35),(472,0.10),(474,0.38),(475,0.13),(476,0.42),(477,0.12),(478,0.30),(479,0.10),(480,0.35),(481,0.44),(482,0.13),(483,0.40),(484,0.12),(485,0.35),(486,0.10),(487,0.40),(488,0.46),(489,0.14),(490,0.40),(491,0.12),(492,0.45),(493,0.61),(494,0.15),(495,0.35),(496,0.10),(497,0.40),(498,0.12),(499,0.30),(500,0.09),(502,0.35),(503,0.12),(504,0.43),(505,0.10),(506,0.25),(507,0.08),(509,0.28),(510,0.10),(511,0.35),(512,0.09),(514,0.25),(515,0.10),(516,0.20),(517,0.08),(519,0.12),(521,0.20),(522,0.10),(524,0.33),(525,0.30),(526,0.12),(527,0.28),(528,0.10),(530,0.25),(531,0.13),(533,0.14),(536,0.12),(539,0.13),(541,0.15),(543,0.14),(545,0.13),(547,0.15),(549,0.30),(550,0.14),(552,0.30),(553,0.12),(555,0.14),(557,0.13),(560,0.12),(562,0.15),(564,0.14),(566,0.12),(567,0.36),(568,0.12),(569,0.51),(570,0.14),(571,0.28),(572,0.10),(574,0.35),(575,0.12),(576,0.40),(577,0.14),(578,0.28),(579,0.09),(581,0.30),(582,0.12),(583,0.25),(584,0.08),(586,0.45),(587,0.56),(588,0.14),(589,0.35),(590,0.10),(592,0.30),(593,0.12),(594,0.44),(595,0.10),(596,0.27),(597,0.08),(599,0.35),(600,0.12),(601,0.28),(602,0.09),(603,0.45),(604,0.56),(605,0.13),(606,0.30),(607,0.10),(609,0.45),(610,0.12),(611,0.28),(612,0.09),(614,0.30),(615,0.12),(616,0.25),(617,0.10),(619,0.28),(620,0.12),(621,0.35),(622,0.10),(624,0.51),(625,0.14),(626,0.28),(627,0.10),(629,0.30),(630,0.12),(631,0.27),(632,0.09),(634,0.56),(635,0.14),(636,0.30),(637,0.10),(639,0.28),(640,0.12),(641,0.25),(642,0.10),(644,0.35),(645,0.14),(646,0.63),(647,0.15),(648,0.50),(649,0.12),(650,0.40),(651,0.79),(652,0.10),(653,0.00),(654,0.12),(656,0.30),(657,0.14),(658,0.35),(659,0.47),(660,0.12),(661,0.28),(662,0.09),(664,0.30),(665,0.12),(666,0.25),(667,0.10),(669,0.28),(670,0.12),(671,0.30),(672,0.09),(673,0.44),(674,0.12),(675,0.27),(676,0.10),(678,0.30),(679,0.12),(680,0.26),(681,0.09),(682,0.40),(683,0.12),(684,0.28),(685,0.10),(687,0.30),(688,0.12),(689,0.26),(690,0.09),(692,0.28),(693,0.12),(694,0.30),(695,0.10),(697,0.47),(698,0.13),(699,0.28),(700,0.09),(702,0.30),(703,0.12),(704,0.25),(705,0.08),(707,0.27),(708,0.12),(709,0.30),(710,0.10),(711,0.46),(712,0.13),(713,0.28),(714,0.10),(716,0.30),(717,0.12),(718,0.26),(719,0.09),(721,0.38),(722,0.12),(723,0.28),(724,0.10),(726,0.25),(727,0.11),(729,0.22),(730,0.10),(731,0.40),(732,0.12),(733,0.25),(734,0.09),(736,0.18),(738,0.12),(740,0.25),(741,0.15),(742,0.45),(743,0.50),(744,0.80),(745,0.15),(746,0.30),(747,0.10),(749,0.41),(750,0.12),(751,0.28),(752,0.09),(754,0.30),(755,0.12),(756,0.26),(757,0.10),(759,0.28),(760,0.12),(761,0.30),(762,0.09),(764,0.33),(765,0.12),(766,0.28),(767,0.10),(768,0.48),(769,0.13),(770,0.43),(771,0.10),(773,0.30),(774,0.12),(775,0.26),(776,0.09),(778,0.28),(779,0.12),(780,0.41),(781,0.10),(783,0.30),(784,0.13),(786,0.22),(787,0.10),(789,0.25),(790,0.12),(792,0.30),(793,0.11),(795,0.28),(796,0.14),(798,0.30),(799,0.15),(800,0.38),(801,0.20),(802,0.50),(803,0.30),(804,0.90),(805,0.15),(806,0.40),(807,0.12),(808,0.30),(809,0.10),(811,0.28),(812,0.12),(813,0.35),(814,0.14),(815,0.42),(816,0.12),(817,0.30),(818,0.09),(820,0.28),(821,0.12),(822,0.42),(823,0.13),(824,0.30),(825,0.10),(827,0.28),(828,0.12),(829,0.25),(830,0.09),(832,0.30),(833,0.12),(834,0.40),(835,0.13),(836,0.27),(837,0.10),(839,0.28),(840,0.12),(841,0.30),(842,0.09),(844,0.26),(845,0.12),(846,0.28),(847,0.10),(849,0.30),(850,0.12),(851,0.25),(852,0.08),(854,0.28),(855,0.12),(856,0.35),(857,0.14),(858,0.40),(859,0.12),(860,0.33),(861,0.14),(862,0.42),(863,0.15),(864,0.57),(865,0.14),(866,0.30),(867,0.10),(868,0.43),(869,0.12),(870,0.28),(871,0.09),(873,0.30),(874,0.12),(875,0.26),(876,0.10),(878,0.28),(879,0.12),(880,0.30),(881,0.09),(883,0.25),(884,0.12),(885,0.28),(886,0.10),(888,0.30),(889,0.12),(890,0.26),(891,0.09),(893,0.25),(894,0.12),(896,0.30),(897,0.14),(898,0.35),(899,0.44),(900,0.12),(901,0.28),(902,0.09),(904,0.25),(905,0.12),(907,0.39),(908,0.12),(909,0.26),(910,0.10),(912,0.28),(913,0.12),(914,0.25),(915,0.09),(917,0.28),(918,0.12),(919,0.30),(920,0.10),(922,0.26),(923,0.12),(924,0.35),(925,0.14),(926,0.42),(927,0.15),(928,0.45),(929,0.14),(930,0.49),(931,0.12),(932,0.40),(933,0.14),(934,0.45),(935,0.16),(937,0.54),(938,0.14),(939,0.35),(940,0.10),(942,0.30),(943,0.12),(944,0.25),(945,0.09),(947,0.28),(948,0.12),(950,0.22),(951,0.10),(953,0.25),(954,0.12),(956,0.20),(957,0.09),(959,0.25),(960,0.14),(962,0.40),(963,0.20),(964,0.45),(965,0.25),(966,0.68),(967,0.15),(968,0.26),(969,0.10),(971,0.30),(972,0.12),(973,0.20),(974,0.25),(975,0.35),(976,0.45),(977,0.30),(978,0.40),(979,0.60),(980,0.80),(981,1.00),(982,0.30),(983,0.10),(984,0.03),(985,0.10),(986,0.25),(987,0.12),(988,0.42),(989,0.15),(990,0.30),(991,0.12),(992,0.40),(993,0.18),(994,0.40),(995,0.12),(996,0.30),(997,0.15),(998,0.48),(999,0.20),(1000,0.18),
]

# inter-burst interval markers in panel (b): start ms, end ms, level
ARROW_START = [16, 133, 276, 390, 492, 618, 822, 925]
ARROW_END = [70, 264, 332, 437, 545, 673, 867, 978]
ARROW_LEVEL = [0.527, 0.523, 0.53, 0.53, 0.53, 0.54, 0.537, 0.54]

# ---------------- figure ----------------
W, H = 1230, 715
LINE_BLUE = "#0072BD"
AX_COL = "#3c3c3c"
TICK_FONT = dict(family="Liberation Sans, Arial, sans-serif", size=13, color="#555555")
TITLE_FONT = dict(family="Liberation Sans, Arial, sans-serif", size=14, color="#333333")
CAPTION_FONT = dict(family="DejaVu Serif, Liberation Serif, serif", size=25, color="#111111")


def fx(p):
    return p / W


def fy(p):
    return 1 - p / H


# pixel layout of each panel: plot area (x0, x1, ytop, ybottom), grey card (x0, y0, x1, y1),
# caption centre, y-title standoff
PANELS = [
    dict(data=TH_HEALTHY, plot=(55, 560, 9.5, 255), card=(6, 0, 588, 310), cap=(330, 344), ystand=20),
    dict(data=TH_PD, plot=(690, 1193, 12.7, 256), card=(640, 7, 1222, 310), cap=(931, 344), ystand=12),
    dict(data=GPI_HEALTHY, plot=(62, 552, 369, 607), card=(11, 365, 583, 663), cap=(330, 698), ystand=18),
    dict(data=GPI_PD, plot=(692, 1192, 368, 610), card=(643, 365, 1218, 667), cap=(932, 698), ystand=14),
]

fig = go.Figure()
shapes = []
annotations = []
layout_axes = {}

for i, p in enumerate(PANELS):
    n = "" if i == 0 else str(i + 1)
    xa, ya = "x" + n, "y" + n
    t = [d[0] for d in p["data"]]
    v = [d[1] for d in p["data"]]
    fig.add_trace(go.Scatter(x=t, y=v, mode="lines", xaxis=xa, yaxis=ya,
                             line=dict(color=LINE_BLUE, width=1.1), showlegend=False,
                             hoverinfo="skip"))
    x0, x1, yt, yb = p["plot"]
    cx0, cy0, cx1, cy1 = p["card"]
    shapes.append(dict(type="rect", xref="paper", yref="paper", layer="below",
                       x0=fx(cx0), x1=fx(cx1), y0=fy(cy1), y1=fy(cy0),
                       fillcolor="#f0f0f0", line=dict(width=0)))
    shapes.append(dict(type="rect", xref="paper", yref="paper", layer="below",
                       x0=fx(x0), x1=fx(x1), y0=fy(yb), y1=fy(yt),
                       fillcolor="white", line=dict(width=0)))
    common = dict(showline=True, linecolor=AX_COL, linewidth=1, mirror="ticks",
                  ticks="inside", ticklen=5, tickcolor=AX_COL, tickwidth=1,
                  showgrid=False, zeroline=False, tickfont=TICK_FONT)
    layout_axes["xaxis" + n] = dict(domain=[fx(x0), fx(x1)], anchor=ya, range=[0, 1000],
                                    tickvals=TIME_TICKS, ticktext=[str(k) for k in TIME_TICKS],
                                    title=dict(text="Time (ms)", font=TITLE_FONT, standoff=6),
                                    **common)
    layout_axes["yaxis" + n] = dict(domain=[fy(yb), fy(yt)], anchor=xa, range=[0, 1],
                                    tickvals=POT_TICKS, ticktext=POT_LABELS,
                                    title=dict(text="Potential", font=TITLE_FONT,
                                               standoff=p["ystand"]),
                                    **common)
    annotations.append(dict(text=CAPTIONS[i], xref="paper", yref="paper",
                            x=fx(p["cap"][0]), y=fy(p["cap"][1]), xanchor="center",
                            yanchor="middle", showarrow=False, font=CAPTION_FONT))

# red dashed double-headed arrows in panel (b)
dash_x, dash_y = [], []
for s, e, lv in zip(ARROW_START, ARROW_END, ARROW_LEVEL):
    dash_x += [s, e, None]
    dash_y += [lv, lv, None]
fig.add_trace(go.Scatter(x=dash_x, y=dash_y, mode="lines", xaxis="x2", yaxis="y2",
                         line=dict(color="#ff0000", width=1.3, dash="3px,3px"),
                         showlegend=False, hoverinfo="skip"))
fig.add_trace(go.Scatter(x=[s + 4 for s in ARROW_START], y=ARROW_LEVEL, mode="markers",
                         xaxis="x2", yaxis="y2",
                         marker=dict(symbol="triangle-left", size=10, color="#ff0000"),
                         showlegend=False, hoverinfo="skip"))
fig.add_trace(go.Scatter(x=[e - 4 for e in ARROW_END], y=ARROW_LEVEL, mode="markers",
                         xaxis="x2", yaxis="y2",
                         marker=dict(symbol="triangle-right", size=10, color="#ff0000"),
                         showlegend=False, hoverinfo="skip"))

fig.update_layout(width=W, height=H, margin=dict(l=0, r=0, t=0, b=0),
                  paper_bgcolor="white", plot_bgcolor="rgba(0,0,0,0)",
                  shapes=shapes, annotations=annotations, showlegend=False,
                  **layout_axes)

fig.write_html("out.html")
